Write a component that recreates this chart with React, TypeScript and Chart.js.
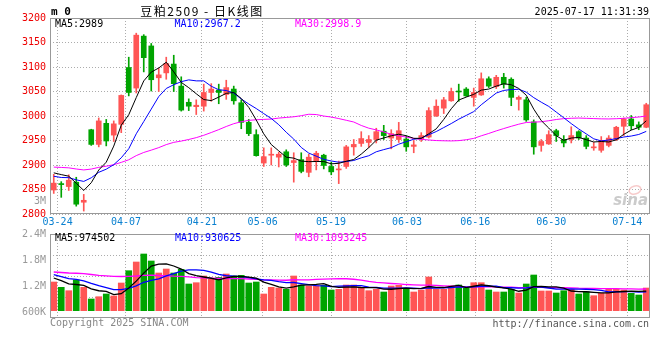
import React, { useEffect, useRef } from "react";
import { Chart, registerables } from "chart.js";

Chart.register(...registerables);

// ---------------- data ----------------
const dates = [
  "03-21", "03-24", "03-25", "03-26", "03-27", "03-28", "03-31", "04-01", "04-02", "04-03",
  "04-07", "04-08", "04-09", "04-10", "04-11", "04-14", "04-15", "04-16", "04-17", "04-18",
  "04-21", "04-22", "04-23", "04-24", "04-25", "04-28", "04-29", "04-30", "05-06", "05-07",
  "05-08", "05-09", "05-12", "05-13", "05-14", "05-15", "05-16", "05-19", "05-20", "05-21",
  "05-22", "05-23", "05-26", "05-27", "05-28", "05-29", "05-30", "06-03", "06-04", "06-05",
  "06-06", "06-09", "06-10", "06-11", "06-12", "06-13", "06-16", "06-17", "06-18", "06-19",
  "06-20", "06-23", "06-24", "06-25", "06-26", "06-27", "06-30", "07-01", "07-02", "07-03",
  "07-04", "07-07", "07-08", "07-09", "07-10", "07-11", "07-14", "07-15", "07-16", "07-17",
];

const opens = [
  2849, 2862, 2856, 2865, 2824, 2972, 2942, 2985, 2961, 2983,
  3099, 3057, 3163, 3143, 3078, 3088, 3106, 3061, 3028, 3019,
  3020, 3048, 3053, 3044, 3055, 3027, 2987, 2962, 2904, 2920,
  2916, 2927, 2905, 2911, 2885, 2908, 2920, 2897, 2890, 2897,
  2937, 2944, 2946, 2952, 2969, 2955, 2952, 2953, 2938, 2952,
  2957, 3000, 3016, 3031, 3051, 3055, 3038, 3043, 3076, 3060,
  3079, 3075, 3034, 3033, 2988, 2940, 2943, 2970, 2952, 2952,
  2968, 2955, 2935, 2930, 2940, 2952, 2979, 2994, 2982, 2977,
];
const highs = [
  2881, 2866, 2880, 2875, 2840, 2973, 2996, 2993, 2990, 3043,
  3120, 3169, 3166, 3148, 3097, 3120, 3124, 3080, 3035, 3033,
  3065, 3066, 3065, 3073, 3061, 3033, 2993, 2972, 2935, 2935,
  2926, 2931, 2925, 2925, 2922, 2928, 2922, 2906, 2908, 2940,
  2952, 2968, 2960, 2975, 2981, 2972, 2987, 2959, 2950, 2966,
  3017, 3033, 3038, 3057, 3065, 3058, 3057, 3088, 3080, 3083,
  3087, 3078, 3041, 3038, 2992, 2952, 2970, 2973, 2960, 2978,
  2970, 2960, 2946, 2958, 2960, 2979, 2996, 3001, 2988, 3026,
];
const lows = [
  2842, 2834, 2848, 2816, 2806, 2940, 2937, 2939, 2948, 2966,
  3041, 3047, 3090, 3051, 3050, 3075, 3050, 3010, 3011, 3003,
  3010, 3030, 3025, 3034, 3024, 2974, 2960, 2918, 2897, 2900,
  2896, 2897, 2865, 2884, 2876, 2890, 2892, 2880, 2862, 2893,
  2920, 2938, 2936, 2945, 2952, 2933, 2946, 2928, 2925, 2948,
  2955, 2999, 3005, 3030, 3030, 3040, 3020, 3042, 3058, 3056,
  3057, 3021, 3012, 2989, 2922, 2928, 2942, 2948, 2937, 2945,
  2952, 2933, 2930, 2926, 2937, 2950, 2960, 2972, 2972, 2976,
];
const closes = [
  2863, 2860, 2869, 2820, 2828, 2942, 2990, 2949, 2984, 3042,
  3048, 3165, 3119, 3074, 3084, 3107, 3066, 3012, 3020, 3022,
  3048, 3055, 3048, 3058, 3031, 2987, 2964, 2919, 2917, 2922,
  2922, 2900, 2909, 2887, 2916, 2924, 2899, 2886, 2892, 2937,
  2942, 2954, 2952, 2968, 2960, 2964, 2970, 2937, 2941, 2960,
  3011, 3020, 3033, 3050, 3049, 3041, 3048, 3076, 3061, 3079,
  3065, 3038, 3038, 2992, 2937, 2948, 2962, 2960, 2945, 2960,
  2955, 2938, 2937, 2950, 2955, 2977, 2994, 2980, 2977, 3023,
];
const volumes = [
  1435000, 1170000, 1000000, 1535000, 1170000, 585000, 700000, 835000, 735000, 1385000,
  2000000, 2435000, 2835000, 2485000, 1885000, 2085000, 1885000, 2070000, 1335000, 1400000,
  1735000, 1570000, 1670000, 1835000, 1735000, 1770000, 1385000, 1435000, 835000, 1170000,
  1135000, 1070000, 1735000, 1285000, 1235000, 1235000, 1270000, 1035000, 1070000, 1285000,
  1285000, 1120000, 1000000, 1070000, 935000, 1235000, 1270000, 1120000, 935000, 1035000,
  1685000, 1070000, 1070000, 1235000, 1285000, 1120000, 1400000, 1400000, 1035000, 935000,
  935000, 1070000, 885000, 1335000, 1785000, 985000, 985000, 885000, 1000000, 1070000,
  835000, 950000, 750000, 870000, 1070000, 1070000, 1035000, 870000, 785000, 1135000,
];

// sessions before 03-21 (not drawn), estimated so the moving averages start where the reference shows them
const prevCloses = [
  2880, 2895, 2890, 2885, 2889, 2885, 2878, 2892, 2900, 2890,
  2910, 2925, 2932, 2930, 2922, 2928, 2935, 2920, 2910, 2905,
  2885, 2872, 2865, 2860, 2868, 2878, 2885, 2892, 2902,
];
const prevVolumes = [
  1900000, 1800000, 1850000, 1750000, 1900000, 1910000, 1600000, 1500000, 1650000, 1900000,
  1800000, 1775000, 2200000, 2500000, 2600000, 2400000, 2300000, 2250000, 2265000, 2200000,
  2100000, 2000000, 1950000, 1900000, 1875000, 1850000, 1780000, 1700000, 1410000,
];

const dateTicks = ["03-24", "04-07", "04-21", "05-06", "05-19", "06-03", "06-16", "06-30", "07-14"];
const priceMin = 2800;
const priceMax = 3200;
const priceStep = 50;
const volumeTicks = [600000, 1200000, 1800000, 2400000];
const maPeriods = [5, 10, 30];
const priceLegend = ["MA5:2989", "MA10:2967.2", "MA30:2998.9"];
const volumeLegend = ["MA5:974502", "MA10:930625", "MA30:1093245"];
const contractMark = "m 0";
const title = "豆粕2509 - 日K线图";
const timestamp = "2025-07-17 11:31:39";
const strayLabel = "3M";
const copyright = "Copyright 2025 SINA.COM";
const sourceUrl = "http://finance.sina.com.cn";

// ---------------- styles ----------------
const UP = "#ff5555";
const DOWN = "#00a400";
const MA_COLORS = ["#000000", "#0000ff", "#ff00ff"];
const MONO = "'DejaVu Sans Mono', monospace";
const GRID = "#acacac";
const FRAME = "#999999";

function movingAverage(values: number[], prev: number[], n: number) {
  const all = prev.concat(values);
  return values.map((_, i) => {
    const end = prev.length + i;
    let s = 0;
    for (let k = end - n + 1; k <= end; k++) s += all[k];
    return s / n;
  });
}

const candleColors = dates.map((_, i) => (closes[i] >= opens[i] ? UP : DOWN));

function dateAxis(showLabels: boolean, height: number) {
  const n = dates.length;
  return {
    type: "linear" as const,
    position: "bottom" as const,
    offset: false,
    min: -0.5,
    max: n - 0.5,
    afterBuildTicks: (s: any) => {
      // the date grid is spread over n-1 gaps while candles take n slots
      s.ticks = dateTicks.map((d) => ({ value: (dates.indexOf(d) * n) / (n - 1) - 0.5 }));
    },
    afterFit: (s: any) => {
      s.height = height;
    },
    ticks: {
      display: showLabels,
      autoSkip: false,
      maxRotation: 0,
      padding: 2,
      color: "#0a80d0",
      font: { family: MONO, size: 10 },
      callback: (_v: any, i: number) => dateTicks[i],
    },
    grid: { color: GRID, lineWidth: 1, drawTicks: false, offset: false },
    border: { display: false, dash: [1, 2] },
  };
}

function lineSet(values: number[], color: string, order: number, width: number, axis = "y") {
  return {
    type: "line" as const,
    data: values.map((v, i) => ({ x: i, y: v })),
    borderColor: color,
    borderWidth: width,
    pointRadius: 0,
    tension: 0,
    fill: false,
    order,
    yAxisID: axis,
  };
}

function text(ctx: CanvasRenderingContext2D, s: string, x: number, y: number, color: string, font: string, align: CanvasTextAlign = "left") {
  ctx.font = font;
  ctx.fillStyle = color;
  ctx.textAlign = align;
  ctx.textBaseline = "middle";
  ctx.fillText(s, x, y);
}

const priceOverlay = {
  id: "priceOverlay",
  beforeDatasetsDraw(chart: any) {
    const ctx = chart.ctx as CanvasRenderingContext2D;
    const a = chart.chartArea;
    ctx.save();
    // faint sina watermark
    ctx.strokeStyle = "rgba(240,160,160,0.55)";
    ctx.lineWidth = 1.5;
    ctx.beginPath();
    ctx.ellipse(a.right - 15, a.bottom - 24, 6, 4, -0.3, 0, Math.PI * 2);
    ctx.stroke();
    text(ctx, "sina", a.right - 2, a.bottom - 13, "rgba(185,185,185,0.75)", "italic bold 15px 'DejaVu Sans'", "right");
    ctx.restore();
  },
  afterDraw(chart: any) {
    const ctx = chart.ctx as CanvasRenderingContext2D;
    const a = chart.chartArea;
    const y = chart.scales.y;
    ctx.save();
    ctx.strokeStyle = FRAME;
    ctx.lineWidth = 1;
    ctx.strokeRect(a.left + 0.5, a.top + 0.5, a.right - a.left - 1, a.bottom - a.top - 1);

    text(ctx, contractMark, a.left + 1, 12, "#000", `bold 11px ${MONO}`);
    ctx.save();
    (ctx as any).letterSpacing = "1.5px";
    text(ctx, title, 202, 11, "#000", "12px 'Noto Sans CJK SC'", "center");
    ctx.restore();
    text(ctx, timestamp, a.right - 1, 12, "#000", `10px ${MONO}`, "right");

    const lx = [a.left + 5, a.left + 124.5, a.left + 245];
    priceLegend.forEach((s, i) => text(ctx, s, lx[i], a.top + 6, MA_COLORS[i], `10px ${MONO}`));

    text(ctx, strayLabel, a.left - 4, y.getPixelForValue((priceMin + priceMin + priceStep) / 2), "#999", `10px ${MONO}`, "right");
    ctx.restore();
  },
};

const volumeOverlay = {
  id: "volumeOverlay",
  beforeDatasetsDraw(chart: any) {
    const ctx = chart.ctx as CanvasRenderingContext2D;
    const a = chart.chartArea;
    ctx.save();
    ctx.strokeStyle = GRID;
    ctx.lineWidth = 1;
    ctx.setLineDash([1, 2]);
    for (let k = 1; k < 4; k++) {
      const yy = Math.round(a.top + ((a.bottom - a.top) * k) / 4) + 0.5;
      ctx.beginPath();
      ctx.moveTo(a.left, yy);
      ctx.lineTo(a.right, yy);
      ctx.stroke();
    }
    ctx.restore();
  },
  afterDraw(chart: any) {
    const ctx = chart.ctx as CanvasRenderingContext2D;
    const a = chart.chartArea;
    ctx.save();
    ctx.strokeStyle = FRAME;
    ctx.lineWidth = 1;
    ctx.strokeRect(a.left + 0.5, a.top + 0.5, a.right - a.left - 1, a.bottom - a.top - 1);
    const lx = [a.left + 5, a.left + 125, a.left + 245];
    volumeLegend.forEach((s, i) => text(ctx, s, lx[i], a.top + 4.5, MA_COLORS[i], `10px ${MONO}`));
    text(ctx, copyright, a.left, a.bottom + 5.5, "#888", `10px ${MONO}`);
    text(ctx, sourceUrl, a.right - 1, a.bottom + 6, "#555", `10px ${MONO}`, "right");
    ctx.restore();
  },
};

function priceConfig(): any {
  const priceMAs = maPeriods.map((n) => movingAverage(closes, prevCloses, n));
  return {
    type: "bar",
    data: {
      datasets: [
        {
          type: "bar",
          data: dates.map((_, i) => ({ x: i, y: [lows[i], highs[i]] })),
          backgroundColor: candleColors,
          borderWidth: 0,
          grouped: false,
          barThickness: 1,
          maxBarThickness: 1,
          minBarLength: 1,
          order: 5,
        },
        {
          type: "bar",
          data: dates.map((_, i) => ({ x: i, y: [opens[i], closes[i]] })),
          backgroundColor: candleColors,
          borderWidth: 0,
          grouped: false,
          barThickness: 5,
          maxBarThickness: 5,
          minBarLength: 1,
          order: 4,
        },
        lineSet(priceMAs[2], MA_COLORS[2], 3, 1),
        lineSet(priceMAs[1], MA_COLORS[1], 2, 1),
        lineSet(priceMAs[0], MA_COLORS[0], 1, 1),
      ],
    },
    options: {
      responsive: false,
      maintainAspectRatio: false,
      devicePixelRatio: 1,
      animation: false,
      events: [],
      layout: { padding: { top: 18, right: 10, left: 0, bottom: 0 } },
      plugins: { legend: { display: false }, tooltip: { enabled: false } },
      scales: {
        x: dateAxis(true, 16),
        y: {
          type: "linear",
          position: "left",
          min: priceMin,
          max: priceMax,
          afterFit: (s: any) => {
            s.width = 50;
          },
          ticks: {
            stepSize: priceStep,
            padding: 4,
            color: "#ee0000",
            font: { family: MONO, size: 10 },
            callback: (v: number) => String(v),
          },
          grid: { color: GRID, lineWidth: 1, drawTicks: false },
          border: { display: false, dash: [1, 2] },
        },
      },
    },
    plugins: [priceOverlay],
  };
}

function volumeConfig(): any {
  const volMAs = maPeriods.map((n) => movingAverage(volumes, prevVolumes, n));
  return {
    type: "bar",
    data: {
      datasets: [
        {
          type: "bar",
          data: dates.map((_, i) => ({ x: i, y: volumes[i] })),
          backgroundColor: candleColors,
          borderWidth: 0,
          grouped: false,
          barThickness: 6,
          maxBarThickness: 6,
          order: 4,
          yAxisID: "y",
        },
        lineSet(volMAs[2], MA_COLORS[2], 3, 1.3),
        lineSet(volMAs[1], MA_COLORS[1], 2, 1.3),
        lineSet(volMAs[0], MA_COLORS[0], 1, 1.3),
      ],
    },
    options: {
      responsive: false,
      maintainAspectRatio: false,
      devicePixelRatio: 1,
      animation: false,
      events: [],
      layout: { padding: { top: 12, right: 10, left: 0, bottom: 0 } },
      plugins: { legend: { display: false }, tooltip: { enabled: false } },
      scales: {
        x: dateAxis(false, 42),
        y: {
          type: "linear",
          display: false,
          min: -365000,
          max: 3835000,
        },
        yl: {
          type: "linear",
          position: "left",
          min: 480000,
          max: 2400000,
          afterBuildTicks: (s: any) => {
            s.ticks = volumeTicks.map((v) => ({ value: v }));
          },
          afterFit: (s: any) => {
            s.width = 50;
          },
          ticks: {
            padding: 4,
            color: "#999999",
            font: { family: MONO, size: 10 },
            callback: (v: number) => (v >= 1000000 ? `${v / 1000000}M` : `${v / 1000}K`),
          },
          grid: { display: false, drawTicks: false },
          border: { display: false },
        },
      },
    },
    plugins: [volumeOverlay],
  };
}

export default function App() {
  const priceRef = useRef<HTMLCanvasElement>(null);
  const volRef = useRef<HTMLCanvasElement>(null);

  useEffect(() => {
    document.body.style.margin = "0";
    const c1 = new Chart(priceRef.current as HTMLCanvasElement, priceConfig());
    const c2 = new Chart(volRef.current as HTMLCanvasElement, volumeConfig());
    return () => {
      c1.destroy();
      c2.destroy();
    };
  }, []);

  return (
    <div style={{ position: "relative", width: 660, height: 360, background: "#fff" }}>
      <canvas
        ref={priceRef}
        width={660}
        height={230}
        style={{ position: "absolute", left: 0, top: 0, width: 660, height: 230 }}
      />
      <canvas
        ref={volRef}
        width={660}
        height={138}
        style={{ position: "absolute", left: 0, top: 222, width: 660, height: 138 }}
      />
    </div>
  );
}
